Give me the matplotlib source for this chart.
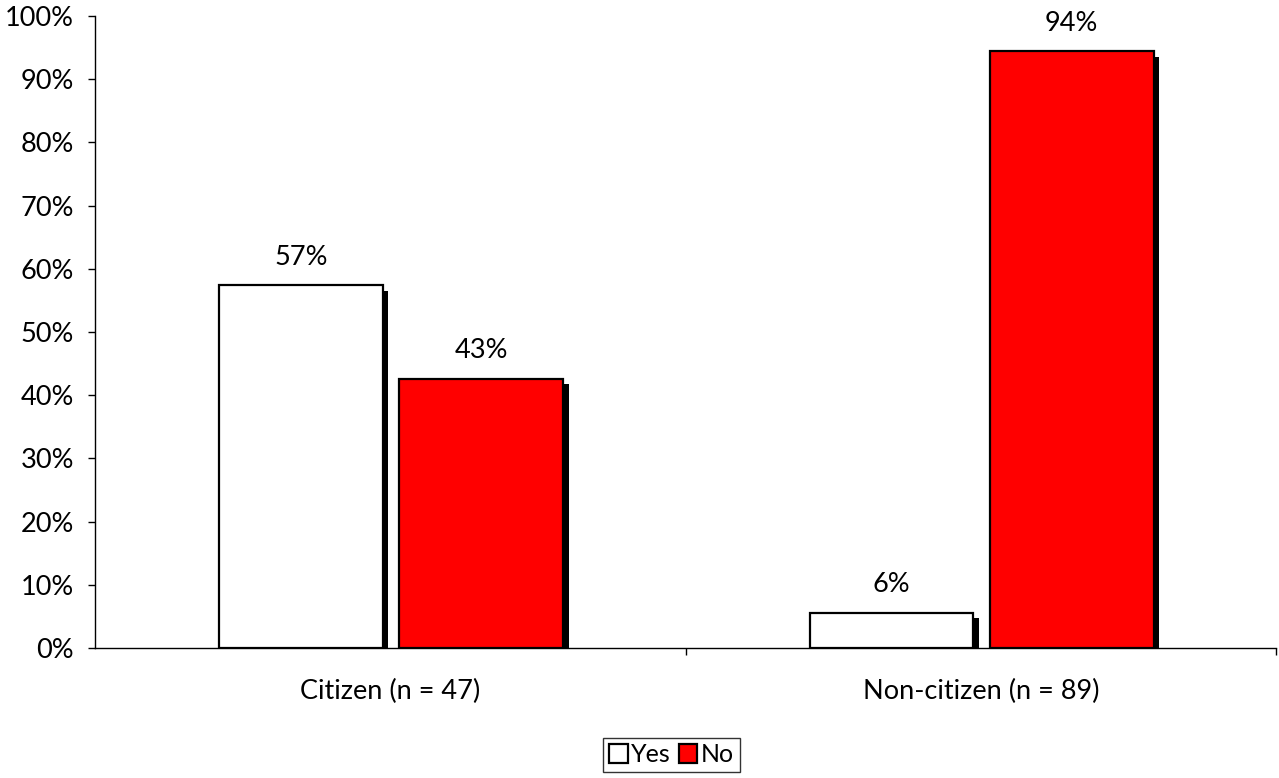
import matplotlib
matplotlib.use("Agg")
import matplotlib.pyplot as plt
import matplotlib.patheffects as pe
from matplotlib.ticker import FuncFormatter
import numpy as np

plt.rcParams['font.family'] = ['Lato', 'DejaVu Sans']

# data
categories = ["Citizen (n = 47)", "Non-citizen (n = 89)"]
yes_vals = [57.4, 5.6]
no_vals = [42.6, 94.4]
yes_labels = ["57%", "6%"]
no_labels = ["43%", "94%"]

fs = 19.5

fig = plt.figure(figsize=(12.79, 7.78), dpi=100)
ax = fig.add_axes([0.0743, 0.1671, 0.9234, 0.8123])

x = np.arange(len(categories))
w = 0.277
shadow = [pe.SimplePatchShadow(offset=(4, -4), shadow_rgbFace='black', alpha=1.0), pe.Normal()]

b1 = ax.bar(x - 0.151, yes_vals, w, color='white', edgecolor='black', linewidth=1.6,
            label='Yes', path_effects=shadow, zorder=3)
b2 = ax.bar(x + 0.154, no_vals, w, color='#ff0000', edgecolor='black', linewidth=1.6,
            label='No', path_effects=shadow, zorder=3)

for xi, v, t in zip(x - 0.151, yes_vals, yes_labels):
    ax.annotate(t, (xi, v), xytext=(0, 11), textcoords='offset points',
                ha='center', va='bottom', fontsize=fs)
for xi, v, t in zip(x + 0.154, no_vals, no_labels):
    ax.annotate(t, (xi, v), xytext=(0, 11), textcoords='offset points',
                ha='center', va='bottom', fontsize=fs)

ax.set_xlim(-0.5, 1.5)
ax.set_ylim(0, 100)
ax.set_yticks(np.arange(0, 101, 10))
ax.yaxis.set_major_formatter(FuncFormatter(lambda v, p: f"{int(v)}%"))
ax.tick_params(axis='y', direction='out', length=5, width=1, pad=10, labelsize=fs)

ax.set_xticks([0.5, 1.5])
ax.set_xticklabels([])
ax.set_xticks(x, minor=True)
ax.set_xticklabels(categories, minor=True)
ax.tick_params(axis='x', which='major', direction='out', length=5, width=1)
ax.tick_params(axis='x', which='minor', length=0, pad=22, labelsize=fs)

for s in ['top', 'right']:
    ax.spines[s].set_visible(False)
for s in ['left', 'bottom']:
    ax.spines[s].set_linewidth(1)
    ax.spines[s].set_color('black')

leg = fig.legend(handles=[b1, b2], labels=['Yes', 'No'], loc='lower center',
                 bbox_to_anchor=(0.525, 0.0), ncol=2, fontsize=18, frameon=True,
                 fancybox=False, edgecolor='black', handlelength=0.75, handleheight=0.75,
                 handletextpad=0.15, columnspacing=0.3, borderpad=0.22, borderaxespad=0.25)
leg.get_frame().set_linewidth(1)
for h in leg.legend_handles:
    h.set_path_effects([])

fig.savefig("out.png", dpi=100)
